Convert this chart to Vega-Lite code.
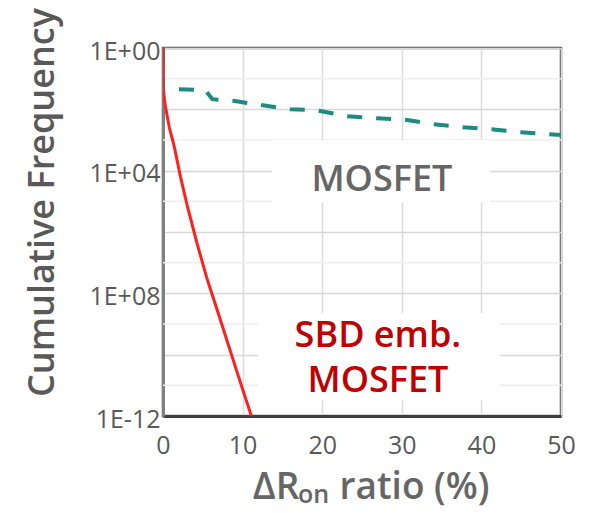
{
  "$schema": "https://vega.github.io/schema/vega-lite/v6.json",
  "autosize": "none",
  "padding": {"left": 163, "top": 48, "right": 33, "bottom": 97},
  "width": 398,
  "height": 368,
  "background": "white",
  "config": {
    "view": {"stroke": "#5a5a5a", "strokeWidth": 2.5},
    "font": "Open Sans"
  },
  "datasets": {
    "mosfet": [
      {"x": 0, "y": 1},
      {"x": 0, "y": 0.0427},
      {"x": 1.8, "y": 0.0457},
      {"x": 5.3, "y": 0.0427},
      {"x": 6.2, "y": 0.0214},
      {"x": 9.0, "y": 0.0186},
      {"x": 16.0, "y": 0.01},
      {"x": 19.3, "y": 0.0093},
      {"x": 23.1, "y": 0.006},
      {"x": 26.9, "y": 0.0051},
      {"x": 30.7, "y": 0.0045},
      {"x": 33.9, "y": 0.0033},
      {"x": 37.7, "y": 0.0026},
      {"x": 41.5, "y": 0.0022},
      {"x": 44.8, "y": 0.0018},
      {"x": 50.0, "y": 0.00145}
    ],
    "sbd": [
      {"x": 0, "y": 1},
      {"x": 0, "y": 0.05},
      {"x": 0.3, "y": 0.0126},
      {"x": 0.8, "y": 0.0025},
      {"x": 1.4, "y": 6.3e-4},
      {"x": 2.2, "y": 6.3e-5},
      {"x": 3.1, "y": 6.3e-6},
      {"x": 4.2, "y": 5e-7},
      {"x": 5.5, "y": 3.2e-8},
      {"x": 7.0, "y": 2e-9},
      {"x": 8.35, "y": 1.6e-10},
      {"x": 9.7, "y": 1.3e-11},
      {"x": 11.1, "y": 1e-12}
    ],
    "minor": [
      {"y": 1e-1}, {"y": 1e-3}, {"y": 1e-5}, {"y": 1e-7}, {"y": 1e-9}, {"y": 1e-11}
    ],
    "boxes": [
      {"x": 13.7, "x2": 41.1, "y": 1e-3, "y2": 9.3e-6},
      {"x": 11.9, "x2": 42.3, "y": 2.3e-9, "y2": 3.2e-12}
    ],
    "labels": [
      {"x": 27.5, "y": 4.9e-5, "text": "MOSFET", "kind": "m"},
      {"x": 27.0, "y": 4.2e-10, "text": "SBD emb.", "kind": "s"},
      {"x": 27.0, "y": 1.4e-11, "text": "MOSFET", "kind": "s"}
    ],
    "xtitle": [
      {"x": 14.2, "y": 2.0e-15, "text": "ΔR", "size": 37},
      {"x": 18.9, "y": 1.45e-15, "text": "on", "size": 25},
      {"x": 31.6, "y": 2.0e-15, "text": "ratio (%)", "size": 37}
    ]
  },
  "layer": [
    {
      "data": {"name": "minor"},
      "mark": {"type": "rule", "color": "#eeeeee", "strokeWidth": 1.5},
      "encoding": {
        "y": {
          "field": "y", "type": "quantitative",
          "scale": {"type": "log", "domain": [1e-12, 1]},
          "axis": {
            "values": [1, 1e-2, 1e-4, 1e-6, 1e-8, 1e-10, 1e-12],
            "labelExpr": "round(log(datum.value)/LN10) == 0 ? '1E+00' : round(log(datum.value)/LN10) == -4 ? '1E+04' : round(log(datum.value)/LN10) == -8 ? '1E+08' : round(log(datum.value)/LN10) == -12 ? '1E-12' : ''",
            "labelFontSize": 25,
            "labelColor": "#595959",
            "labelPadding": 3,
            "labelOffset": 3,
            "ticks": false,
            "domainColor": "#808080",
            "domainWidth": 3,
            "gridColor": "#d8d8d8",
            "gridWidth": 1.5,
            "title": "Cumulative Frequency",
            "titleFontSize": 36,
            "titleFontWeight": 600,
            "titleColor": "#595959",
            "titleAngle": 270,
            "titleAlign": "center",
            "titleBaseline": "alphabetic",
            "titleX": -110,
            "titleY": 154
          }
        }
      }
    },
    {
      "data": {"name": "boxes"},
      "mark": {"type": "rect", "color": "white"},
      "encoding": {
        "x": {
          "field": "x", "type": "quantitative",
          "scale": {"domain": [0, 50], "nice": false},
          "axis": {
            "values": [0, 10, 20, 30, 40, 50],
            "labelFontSize": 25,
            "labelColor": "#595959",
            "labelPadding": 17,
            "labelFlush": false,
            "ticks": false,
            "domainColor": "#404040",
            "domainWidth": 3,
            "gridColor": "#dcdcdc",
            "gridWidth": 1.5,
            "title": null
          }
        },
        "x2": {"field": "x2"},
        "y": {"field": "y", "type": "quantitative"},
        "y2": {"field": "y2"}
      }
    },
    {
      "data": {"name": "mosfet"},
      "mark": {"type": "line", "color": "#1f8a82", "strokeWidth": 4, "strokeDash": [15, 14], "clip": true},
      "encoding": {
        "x": {"field": "x", "type": "quantitative"},
        "y": {"field": "y", "type": "quantitative"}
      }
    },
    {
      "data": {"name": "sbd"},
      "mark": {"type": "line", "color": "#ff1f1f", "strokeWidth": 3, "clip": true},
      "encoding": {
        "x": {"field": "x", "type": "quantitative"},
        "y": {"field": "y", "type": "quantitative"}
      }
    },
    {
      "data": {"name": "labels"},
      "mark": {"type": "text", "fontSize": 36, "fontWeight": 600, "align": "center", "baseline": "middle"},
      "encoding": {
        "x": {"field": "x", "type": "quantitative"},
        "y": {"field": "y", "type": "quantitative"},
        "text": {"field": "text"},
        "color": {
          "field": "kind", "type": "nominal",
          "scale": {"domain": ["m", "s"], "range": ["#666666", "#c00000"]},
          "legend": null
        }
      }
    },
    {
      "data": {"name": "xtitle"},
      "mark": {"type": "text", "fontWeight": 600, "align": "center", "baseline": "alphabetic", "color": "#666666"},
      "encoding": {
        "x": {"field": "x", "type": "quantitative"},
        "y": {"field": "y", "type": "quantitative"},
        "text": {"field": "text"},
        "size": {"field": "size", "type": "quantitative", "scale": null, "legend": null}
      }
    }
  ]
}
